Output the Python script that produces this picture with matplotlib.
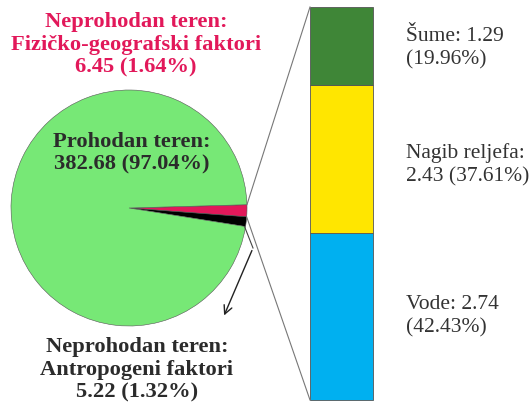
import matplotlib.pyplot as plt
import numpy as np

# pie: passable vs. impassable terrain
pie_labels = ['Neprohodan teren:\nFizičko-geografski faktori', 'Neprohodan teren:\nAntropogeni faktori', 'Prohodan teren:']
pie_values = [6.45, 5.22, 382.68]
pie_pct = [1.64, 1.32, 97.04]
pie_colors = ['#E2185A', '#000000', '#77E876']

# stacked bar: breakdown of the physical-geographic factors (bottom to top)
bar_labels = ['Vode', 'Nagib reljefa', 'Šume']
bar_values = [2.74, 2.43, 1.29]
bar_pct = [42.43, 37.61, 19.96]
bar_colors = ['#00B0F0', '#FFE600', '#3F8637']

W, H = 529, 403
fig = plt.figure(figsize=(W / 100, H / 100), dpi=100)
ax = fig.add_axes([0, 0, 1, 1])
ax.set_xlim(0, W)
ax.set_ylim(0, H)
ax.set_aspect('equal')
ax.axis('off')

serif = ['Liberation Serif', 'DejaVu Serif']

cx, cy, r = 129, H - 208, 118
ax.pie(pie_values, colors=pie_colors, center=(cx, cy), radius=r,
       startangle=1.6, counterclock=False,
       wedgeprops=dict(edgecolor='#555555', linewidth=0.4))
ax.set_xlim(0, W)
ax.set_ylim(0, H)

# stacked bar
bx0, bx1 = 310, 373
btop, bbot = H - 7, H - 400
scale = (btop - bbot) / sum(bar_values)
bottom = bbot
for val, col in zip(bar_values, bar_colors):
    ax.bar((bx0 + bx1) / 2, val * scale, width=bx1 - bx0, bottom=bottom,
           color=col, edgecolor='#555555', linewidth=0.6)
    bottom += val * scale

# connector lines from the pie to the bar
ang_top = np.radians(1.6)
ang_bot = np.radians(1.6 - 360 * pie_pct[0] / 100)
p_top = (cx + r * np.cos(ang_top), cy + r * np.sin(ang_top))
p_bot = (cx + r * np.cos(ang_bot), cy + r * np.sin(ang_bot))
ax.plot([p_top[0], bx0], [p_top[1], btop], color='#777777', lw=0.8)
ax.plot([p_bot[0], bx0], [p_bot[1], bbot], color='#777777', lw=0.8)

# bent arrow from the black slice
ang_blk = np.radians(1.6 - 360 * (pie_pct[0] + pie_pct[1]) / 100)
p_blk = (cx + r * np.cos(ang_blk) - 1, cy + r * np.sin(ang_blk))
bend = (253, H - 248)
ax.plot([p_blk[0], bend[0]], [p_blk[1], bend[1]], color='#444444', lw=0.8)
ax.annotate('', xy=(223, H - 318), xytext=bend,
            arrowprops=dict(arrowstyle='->', color='#222222', lw=1.0,
                            mutation_scale=15))

# pie labels
bold = dict(ha='center', va='center', fontsize=16.2, fontweight='bold',
            family=serif, linespacing=1.17)
ax.text(136, H - 45, f'{pie_labels[0]}\n{pie_values[0]:.2f} ({pie_pct[0]:.2f}%)',
        color='#E2185A', **bold)
ax.text(132, H - 153, f'{pie_labels[2]}\n{pie_values[2]:.2f} ({pie_pct[2]:.2f}%)',
        color='#2B2B2B', **bold)
ax.text(137, H - 370, f'{pie_labels[1]}\n{pie_values[1]:.2f} ({pie_pct[1]:.2f}%)',
        color='#2B2B2B', **bold)

# bar labels
bar_text = {
    'Šume': f'Šume: {bar_values[2]:.2f}\n({bar_pct[2]:.2f}%)',
    'Nagib reljefa': f'Nagib reljefa:\n{bar_values[1]:.2f} ({bar_pct[1]:.2f}%)',
    'Vode': f'Vode: {bar_values[0]:.2f}\n({bar_pct[0]:.2f}%)',
}
bar_text_y = {'Šume': 48, 'Nagib reljefa': 165, 'Vode': 316}
for name in bar_labels:
    ax.text(406, H - bar_text_y[name], bar_text[name], ha='left', va='center',
            fontsize=15.5, color='#333333', family=serif, linespacing=1.28)

fig.savefig('out.png', dpi=100)
